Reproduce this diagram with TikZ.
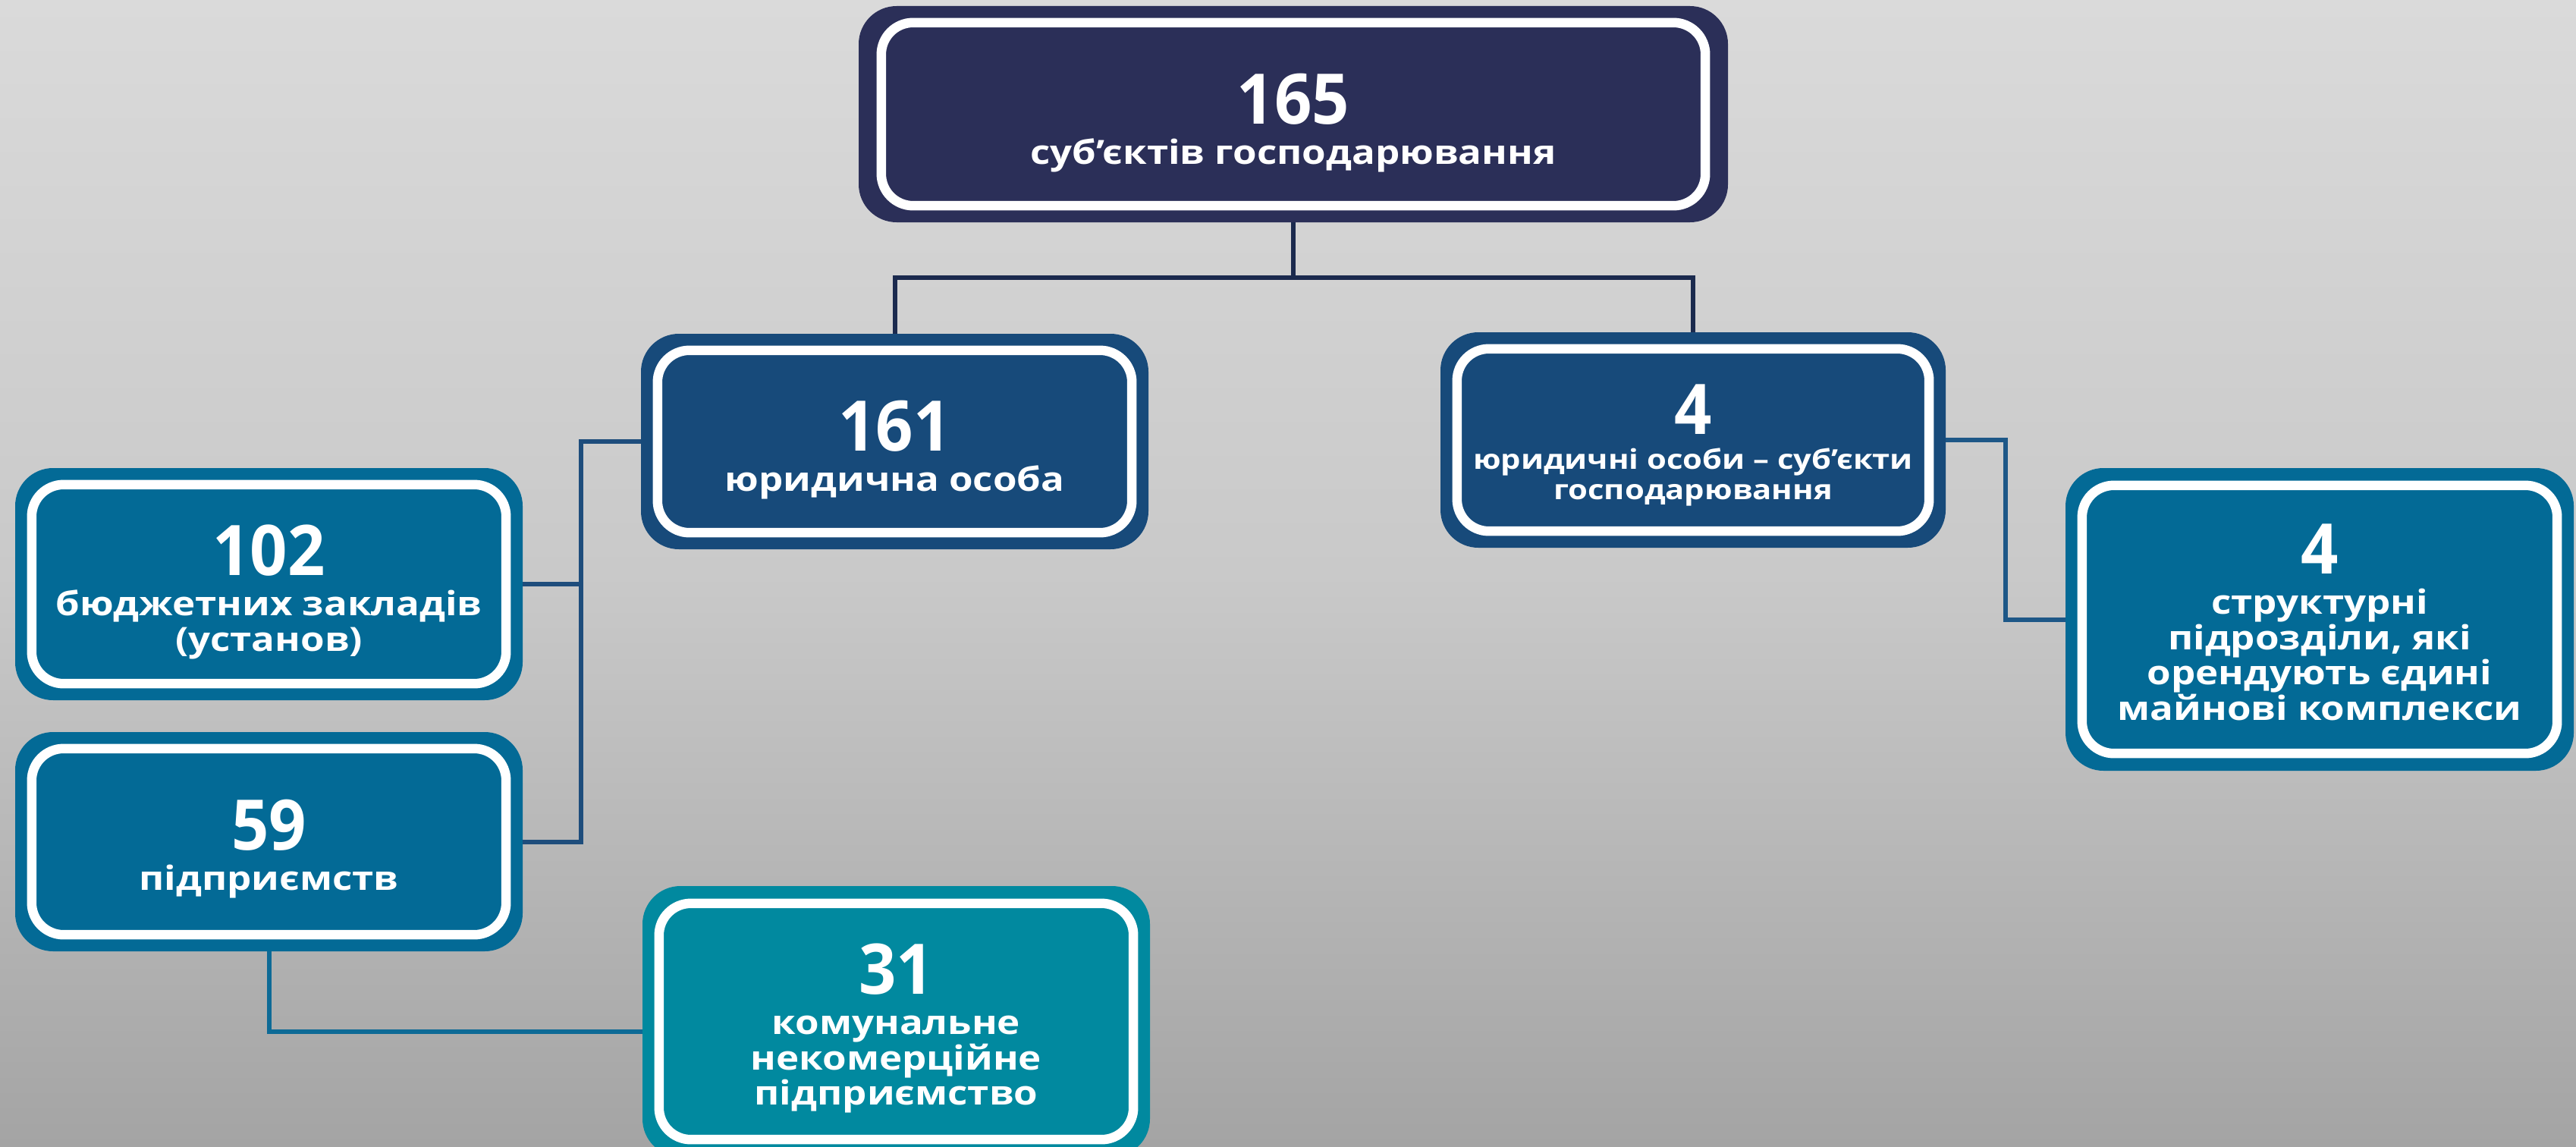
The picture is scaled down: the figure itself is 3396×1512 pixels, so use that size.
\documentclass[tikz,border=0pt]{standalone}
\usepackage{fontspec}
\setmainfont{Open Sans}
\newfontfamily\subfamily{Open Sans}[FakeStretch=1.16]
\newfontfamily\numfamily{Open Sans}[FakeStretch=0.94]
\usetikzlibrary{calc}
\definecolor{bgtop}{HTML}{DADADA}
\definecolor{bgmid}{HTML}{C9C9C9}
\definecolor{bgbot}{HTML}{A4A4A4}
\definecolor{navy}{HTML}{2B2F58}
\definecolor{royal}{HTML}{174A7A}
\definecolor{steel}{HTML}{036A96}
\definecolor{teal}{HTML}{01899F}
\definecolor{conA}{HTML}{1B2A4E}
\definecolor{conB}{HTML}{1E4D7C}
\definecolor{conC}{HTML}{0D6A96}
\definecolor{conD}{HTML}{1D5787}
\newcommand\subfont{\subfamily\bfseries\fontsize{44}{46.5}\selectfont}
\newcommand\subfontsmall{\subfamily\bfseries\fontsize{36}{40}\selectfont}
\newcommand\numtext[1]{{\numfamily\bfseries\fontsize{92}{92}\selectfont #1}}
\tikzset{
  boxbase/.style={rectangle, rounded corners=50pt, inner sep=0pt, draw=none},
  ring/.style={draw=white, line width=12.5pt, rounded corners=42pt},
  boxtext/.style={text=white, align=center, inner sep=0pt, anchor=north, font=\subfont},
  boxtextsmall/.style={boxtext, font=\subfontsmall},
  conn/.style={line width=6pt, line join=miter},
}
\newcommand\ubox[8]{%
  \node[boxbase, fill=#6, minimum width=#4pt, minimum height=#5pt] (#1) at (#2,#3) {};
  \draw[ring] ([xshift=#7pt,yshift=-#8pt]#1.north west) rectangle ([xshift=-#7pt,yshift=#8pt]#1.south east);
}
\begin{document}
\begin{tikzpicture}[x=1pt,y=-1pt]
\useasboundingbox (0,0) rectangle (3396,1512);
\shade[top color=bgtop, bottom color=bgbot, middle color=bgmid] (0,0) rectangle (3396,1512);

% boxes
\ubox{top}{1705}{150.5}{1146}{285}{navy}{30}{22}
\ubox{b161}{1179.5}{582}{669}{284}{royal}{22}{22}
\ubox{b4}{2232}{580}{666}{284}{royal}{22}{22}
\ubox{b102}{354.5}{770}{669}{306}{steel}{22}{22}
\ubox{b59}{354.5}{1109.5}{669}{289}{steel}{22}{22}
\ubox{bs}{3058}{816.5}{670}{399}{steel}{22}{23}
\ubox{b31}{1181.5}{1346.5}{669}{357}{teal}{22}{23}

% connectors
\coordinate (h1) at (0,366);
\coordinate (x2) at (766,0);
\coordinate (h3) at (0,1360);
\coordinate (x4) at (2644,0);
\draw[conn, conA] (top.south) -- (top.south |- h1);
\draw[conn, conA] (b161.north) -- (b161.north |- h1) -- (b4.north |- h1) -- (b4.north);
\draw[conn, conB] (b161.west) -- (b161.west -| x2) -- (b59.east -| x2) -- (b59.east);
\draw[conn, conB] (b102.east) -- (b102.east -| x2);
\draw[conn, conC] (b59.south) -- (b59.south |- h3) -- (b31.west |- h3);
\draw[conn, conD] (b4.east) -- (b4.east -| x4) -- (bs.west -| x4) -- (bs.west);

% texts
\node[boxtext] (top-t) at ([yshift=-89pt]top.north) {\numtext{165}\\[6.5pt]суб’єктів господарювання};
\node[boxtext] (b161-t) at ([yshift=-88pt]b161.north) {\numtext{161}\\[6.5pt]юридична особа};
\node[boxtextsmall] (b4-t) at ([yshift=-69pt]b4.north) {\numtext{4}\\[6pt]юридичні особи – суб’єкти\\господарювання};
\node[boxtext] (b102-t) at ([yshift=-75pt]b102.north) {\numtext{102}\\[6.5pt]бюджетних закладів\\(установ)};
\node[boxtext] (b59-t) at ([yshift=-89pt]b59.north) {\numtext{59}\\[6.5pt]підприємств};
\node[boxtext] (bs-t) at ([yshift=-74pt]bs.north) {\numtext{4}\\[6.5pt]структурні\\підрозділи, які\\орендують єдині\\майнові комплекси};
\node[boxtext] (b31-t) at ([yshift=-76pt]b31.north) {\numtext{31}\\[6.5pt]комунальне\\некомерційне\\підприємство};
\end{tikzpicture}
\end{document}
